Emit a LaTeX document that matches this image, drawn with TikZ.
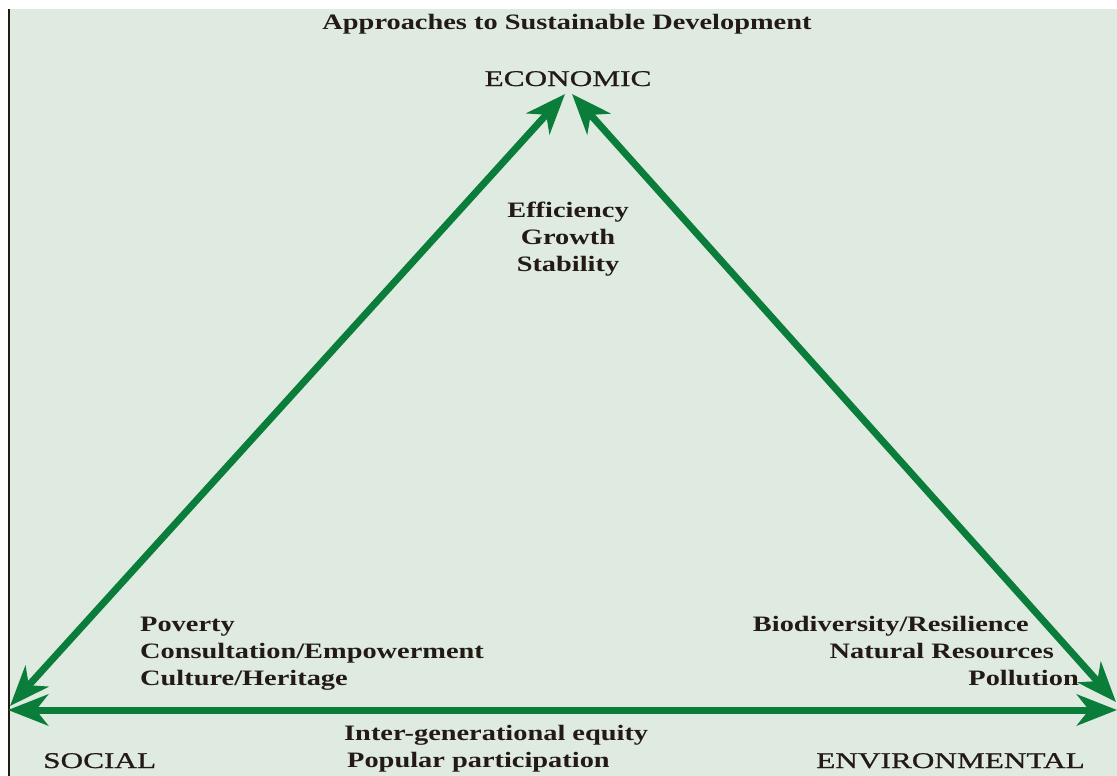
\documentclass[tikz,border=0pt]{standalone}
\usepackage{fontspec}
\setmainfont{Liberation Serif}[FakeStretch=1.29]
\newfontfamily\cornerfont{Liberation Serif}[FakeStretch=1.39,FakeBold=0.8]
\usetikzlibrary{arrows.meta}
\definecolor{panel}{HTML}{DFEBE1}
\definecolor{arrowgreen}{HTML}{0B7D3B}
\definecolor{ink}{HTML}{231A14}
\begin{document}
\begin{tikzpicture}[x=1pt,y=-1pt,
  txt/.style={inner sep=0pt,text=ink,font=\fontsize{22}{27}\selectfont\bfseries},
  corner/.style={inner sep=0pt,text=ink,font=\fontsize{22.5}{27}\selectfont\cornerfont},
  link/.style={arrowgreen,line width=7pt,{Stealth[length=40pt,width=31pt,inset=12pt]}-{Stealth[length=40pt,width=31pt,inset=12pt]}}]
  \useasboundingbox (0,0) rectangle (1117,776);
  % panel and its left rule
  \fill[panel] (9,9) rectangle (1117,776);
  \draw[ink,line width=2pt] (8.5,9) -- (8.5,776);

  % headings
  \node[txt,anchor=base] (title) at (567,30) {Approaches to Sustainable Development};
  \node[corner,anchor=base] (eco) at (568,86) {ECONOMIC};
  \node[corner,anchor=base west] (soc) at (43,768) {SOCIAL};
  \node[corner,anchor=base east] (env) at (1085,768) {ENVIRONMENTAL};

  % economic aspects
  \node[txt,anchor=base] (e1) at (568,217) {Efficiency};
  \node[txt,anchor=base] (e2) at (568,244) {Growth};
  \node[txt,anchor=base] (e3) at (568,271) {Stability};

  % social aspects
  \node[txt,anchor=base west] (s1) at (140,631) {Poverty};
  \node[txt,anchor=base west] (s2) at (140,658) {Consultation/Empowerment};
  \node[txt,anchor=base west] (s3) at (140,685) {Culture/Heritage};

  % environmental aspects
  \node[txt,anchor=base east] (v1) at (1029,631) {Biodiversity/Resilience};
  \node[txt,anchor=base east] (v2) at (1054,658) {Natural Resources};
  \node[txt,anchor=base east] (v3) at (1079,685) {Pollution};

  % social-environmental link
  \node[txt,anchor=base west] (b1) at (344,740) {Inter-generational equity};
  \node[txt,anchor=base west] (b2) at (347,767) {Popular participation};

  % triangle tips
  \coordinate (topL) at (565,94);
  \coordinate (topR) at (572,94);
  \coordinate (socD) at (10,706);
  \coordinate (socH) at (8,710);
  \coordinate (envH) at (1117,710);
  \coordinate (envD) at (1116,702);

  \draw[link] (socD) -- (topL);
  \draw[link] (envD) -- (topR);
  \draw[link] (socH) -- (envH);
\end{tikzpicture}
\end{document}
